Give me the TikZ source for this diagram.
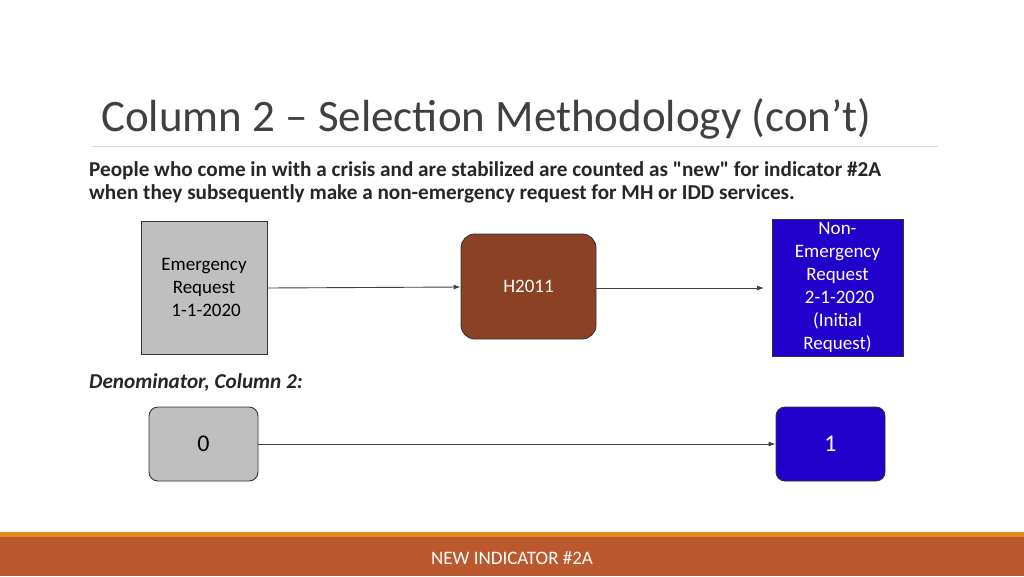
\documentclass[tikz,border=0pt]{standalone}
\usepackage{fontspec}
\setmainfont{Carlito}[Ligatures=TeXOff]
\usetikzlibrary{arrows.meta}
\definecolor{titlegray}{HTML}{404040}
\definecolor{rulegray}{HTML}{D9D9D9}
\definecolor{boxgray}{HTML}{BFBFBF}
\definecolor{hbrown}{HTML}{8B4123}
\definecolor{nblue}{HTML}{2200CC}
\definecolor{barorange}{HTML}{E48A1E}
\definecolor{barbrown}{HTML}{BC582D}
\begin{document}
\begin{tikzpicture}[x=1pt,y=-1pt,
  box/.style={draw=black!80, line width=0.9pt, align=center, inner sep=0pt, font=\fontsize{19}{23}\selectfont},
  conn/.style={draw=black!75, line width=0.9pt, -{Latex[length=7pt,width=5pt]}}]
\useasboundingbox (0,0) rectangle (1024,576);
\fill[white] (0,0) rectangle (1024,576);
% title
\node[anchor=base west, inner sep=0pt, text=titlegray, font=\fontsize{45}{50}\selectfont] (title) at (101,131) {Column 2 – Selection Methodology (con’t)};
\draw[rulegray, line width=1pt] (92,146) -- (938,146);
\node[anchor=base west, inner sep=0pt, align=left, text=black!85, font=\fontsize{21.2}{23}\selectfont\bfseries] (intro) at (89,199) {People who come in with a crisis and are stabilized are counted as "new" for indicator \#2A\\when they subsequently make a non-emergency request for MH or IDD services.};
% boxes
\node[box, fill=boxgray, minimum width=126pt, minimum height=133pt] (er) at (204,287.5) {Emergency\\Request\\\ 1-1-2020};
\node[box, fill=hbrown, text=white, rounded corners=14pt, minimum width=135pt, minimum height=105pt] (h) at (528.5,286.5) {H2011};
\node[box, fill=nblue, text=white, minimum width=131pt, minimum height=137pt] (ne) at (837.5,287.5) {Non-\\Emergency\\Request\\\ 2-1-2020\\(Initial\\Request)};
\coordinate (neIn) at (764,288);
\draw[conn] (er.east |- 0,288) -- (h.west |- 0,287);
\draw[conn] (h.east |- 0,288) -- (neIn);
% denominator
\node[anchor=base west, inner sep=0pt, text=black!85, font=\fontsize{21.2}{23}\selectfont\bfseries\itshape] (den) at (89,388) {Denominator, Column 2:};
\node[box, fill=boxgray, rounded corners=9pt, minimum width=109pt, minimum height=74pt, font=\fontsize{24}{26}\selectfont] (z) at (203.5,444) {0};
\node[box, fill=nblue, text=white, rounded corners=9pt, minimum width=109pt, minimum height=74pt, font=\fontsize{24}{26}\selectfont] (o) at (830.5,444) {1};
\draw[conn] (z) -- (o);
% bottom bar
\fill[barorange] (0,532) rectangle (1024,537);
\fill[barbrown] (0,537) rectangle (1024,576);
\node[text=white, inner sep=0pt, font=\fontsize{19}{21}\selectfont] (foot) at (512,558) {NEW INDICATOR \#2A};
\end{tikzpicture}
\end{document}
